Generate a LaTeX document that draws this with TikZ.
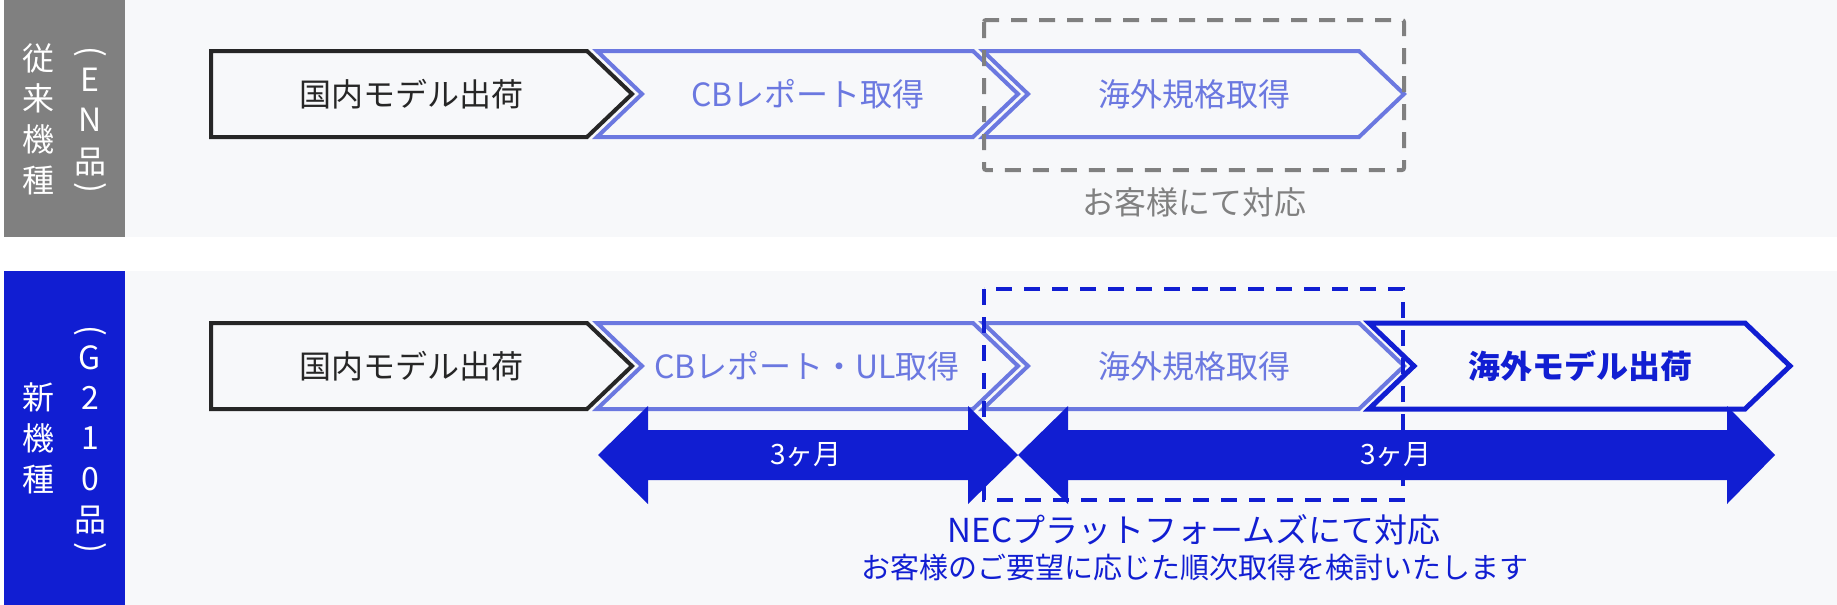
\documentclass[tikz,border=0pt]{standalone}
\usepackage{fontspec}
\setmainfont{Noto Sans CJK JP}
\definecolor{bgl}{HTML}{F7F8FA}
\definecolor{lbl}{HTML}{808080}
\definecolor{dblue}{RGB}{17,30,210}
\definecolor{lblue}{HTML}{6B78E0}
\definecolor{blk}{HTML}{262626}
\begin{document}
\begin{tikzpicture}[x=1pt,y=-1pt,
  chevk/.style={draw=blk, line width=4pt, fill=bgl},
  chevl/.style={draw=lblue, line width=4pt, fill=bgl},
  chevd/.style={draw=dblue, line width=5pt, fill=bgl},
  txt/.style={inner sep=0pt, font=\fontsize{32}{36}\selectfont},
  smalltxt/.style={inner sep=0pt, font=\fontsize{29}{33}\selectfont},
  bigtxt/.style={inner sep=0pt, font=\fontsize{33}{37}\selectfont},
  monthtxt/.style={inner sep=0pt, text=white, font=\fontsize{28}{32}\selectfont},
  vlab/.style={inner sep=0pt, text=white, font=\fontsize{32}{36}\selectfont},
  vparen/.style={inner sep=0pt, text=white, font=\fontsize{32}{36}\selectfont, rotate=-90},
  dashbox/.style={line width=4pt, dash pattern=on 16pt off 12pt}]
\useasboundingbox (0,0) rectangle (1837,605);
% backgrounds
\fill[white] (0,0) rectangle (1837,605);
\fill[bgl] (125,0) rectangle (1837,237);
\fill[lbl] (4,0) rectangle (125,237);
\fill[bgl] (125,271) rectangle (1837,605);
\fill[dblue] (4,271) rectangle (125,605);
% row 1 chevrons
\draw[chevk] (211,51) -- (587,51) -- (632,94) -- (587,137) -- (211,137) -- cycle;
\draw[chevl] (597,51) -- (973,51) -- (1018,94) -- (973,137) -- (597,137) -- (642,94) -- cycle;
\draw[chevl] (983,51) -- (1359,51) -- (1404,94) -- (1359,137) -- (983,137) -- (1028,94) -- cycle;
% row 2 chevrons
\draw[chevk] (211,323) -- (587,323) -- (632,366) -- (587,409) -- (211,409) -- cycle;
\draw[chevl] (597,323) -- (973,323) -- (1018,366) -- (973,409) -- (597,409) -- (642,366) -- cycle;
\draw[chevl] (983,323) -- (1359,323) -- (1404,366) -- (1359,409) -- (983,409) -- (1028,366) -- cycle;
\draw[chevd] (1369,323) -- (1745,323) -- (1790,366) -- (1745,409) -- (1369,409) -- (1414,366) -- cycle;
% duration arrows
\fill[dblue] (598,455) -- (648,406) -- (648,430) -- (968,430) -- (968,406) -- (1018,455) -- (968,504) -- (968,480) -- (648,480) -- (648,504) -- cycle;
\fill[dblue] (1018,455) -- (1068,406) -- (1068,430) -- (1727,430) -- (1727,406) -- (1775,455) -- (1727,504) -- (1727,480) -- (1068,480) -- (1068,504) -- cycle;
% dashed boxes
\draw[dashbox, draw=lbl, rounded corners=2pt] (984,20) rectangle (1404,170);
\draw[dashbox, draw=dblue] (984,289) rectangle (1403,500);
% chevron texts
\node[txt, text=blk] (t1a) at (411,94) {国内モデル出荷};
\node[txt, text=lblue] (t1b) at (808,94) {CBレポート取得};
\node[txt, text=lblue] (t1c) at (1194,94) {海外規格取得};
\node[txt, text=lbl] (t1n) at (1194,202) {お客様にて対応};
\node[txt, text=blk] (t2a) at (411,366) {国内モデル出荷};
\node[txt, text=lblue] (t2b) at (807,366) {CBレポート・UL取得};
\node[txt, text=lblue] (t2c) at (1194,366) {海外規格取得};
\node[txt, text=dblue, font=\fontsize{32}{36}\selectfont\bfseries] (t2d) at (1580,366) {海外モデル出荷};
\node[monthtxt] (m1) at (806,455) {3ヶ月};
\node[monthtxt] (m2) at (1396,455) {3ヶ月};
\node[bigtxt, text=dblue] (n1) at (1194,530) {NECプラットフォームズにて対応};
\node[smalltxt, text=dblue] (n2) at (1195,568) {お客様のご要望に応じた順次取得を検討いたします};
% vertical labels top
\node[vlab] (a1) at (38,58) {従};
\node[vlab] (a2) at (38,98) {来};
\node[vlab] (a3) at (38,139) {機};
\node[vlab] (a4) at (38,180) {種};
\node[vparen] (b1) at (90,52) {(};
\node[vlab] (b2) at (90,80) {E};
\node[vlab] (b3) at (90,120) {N};
\node[vlab] (b4) at (90,162) {品};
\node[vparen] (b5) at (90,188) {)};
% vertical labels bottom
\node[vlab] (c1) at (38,397) {新};
\node[vlab] (c2) at (38,438) {機};
\node[vlab] (c3) at (38,479) {種};
\node[vparen] (d1) at (90,331) {(};
\node[vlab] (d2) at (90,358) {G};
\node[vlab] (d3) at (90,398) {2};
\node[vlab] (d4) at (90,438) {1};
\node[vlab] (d5) at (90,479) {0};
\node[vlab] (d6) at (90,520) {品};
\node[vparen] (d7) at (90,548) {)};
\end{tikzpicture}
\end{document}
